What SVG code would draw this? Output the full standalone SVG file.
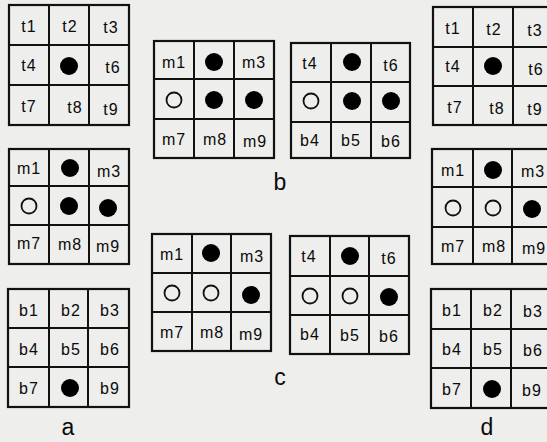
<svg xmlns="http://www.w3.org/2000/svg" width="547" height="442" viewBox="0 0 547 442">
<style>
.bg{fill:#eeeeec}
.box{fill:none;stroke:#111;stroke-width:2.2}
.ln{stroke:#111;stroke-width:2}
text{font-family:"Liberation Sans",Arial,sans-serif;fill:#0a0a0a}
.t{font-size:16px;text-anchor:middle;letter-spacing:1px}
.lab{font-size:23px;text-anchor:middle}
.dot{fill:#000}
.ring{fill:none;stroke:#111;stroke-width:1.8}
</style>
<rect class="bg" x="0" y="0" width="547" height="442"/>

<g id="a1">
<rect class="box" x="9" y="5" width="120" height="120"/>
<path class="ln" d="M49 5V125M89 5V125M9 45H129M9 85H129"/>
<text class="t" x="29" y="32">t1</text><text class="t" x="70" y="32">t2</text><text class="t" x="111" y="33">t3</text>
<text class="t" x="29" y="71">t4</text><circle class="dot" cx="69" cy="66" r="9"/><text class="t" x="113" y="73">t6</text>
<text class="t" x="29" y="112">t7</text><text class="t" x="75" y="113">t8</text><text class="t" x="111" y="115">t9</text>
</g>

<g id="a2">
<rect class="box" x="9" y="149" width="120" height="115"/>
<path class="ln" d="M49 149V264M89 149V264M9 186H129M9 225H129"/>
<text class="t" x="29" y="174">m1</text><circle class="dot" cx="70" cy="168" r="9"/><text class="t" x="109" y="177">m3</text>
<circle class="ring" cx="29" cy="206" r="7.5"/><circle class="dot" cx="69" cy="206" r="9"/><circle class="dot" cx="108" cy="208" r="9"/>
<text class="t" x="29" y="249">m7</text><text class="t" x="70" y="250">m8</text><text class="t" x="108" y="252">m9</text>
</g>

<g id="a3">
<rect class="box" x="8" y="289" width="121" height="118"/>
<path class="ln" d="M49 289V407M88 289V407M8 328H129M8 367H129"/>
<text class="t" x="29" y="316">b1</text><text class="t" x="71" y="316">b2</text><text class="t" x="110" y="316">b3</text>
<text class="t" x="29" y="355">b4</text><text class="t" x="71" y="355">b5</text><text class="t" x="110" y="355">b6</text>
<text class="t" x="29" y="394">b7</text><circle class="dot" cx="70" cy="388" r="9"/><text class="t" x="110" y="394">b9</text>
</g>

<g id="b1">
<rect class="box" x="154" y="41" width="120" height="117"/>
<path class="ln" d="M194 41V158M234 41V158M154 79H274M154 119H274"/>
<text class="t" x="174" y="68">m1</text><circle class="dot" cx="214" cy="62" r="9"/><text class="t" x="254" y="68">m3</text>
<circle class="ring" cx="174" cy="100" r="7.5"/><circle class="dot" cx="214" cy="100" r="9"/><circle class="dot" cx="254" cy="100" r="9"/>
<text class="t" x="174" y="145">m7</text><text class="t" x="215" y="145">m8</text><text class="t" x="255" y="147">m9</text>
</g>

<g id="b2">
<rect class="box" x="291" y="43" width="119" height="115"/>
<path class="ln" d="M331 43V158M371 43V158M291 82H410M291 122H410"/>
<text class="t" x="310" y="69">t4</text><circle class="dot" cx="352" cy="62" r="9"/><text class="t" x="391" y="71">t6</text>
<circle class="ring" cx="311" cy="101" r="7.5"/><circle class="dot" cx="352" cy="101" r="9"/><circle class="dot" cx="391" cy="101" r="9"/>
<text class="t" x="310" y="146">b4</text><text class="t" x="351" y="146">b5</text><text class="t" x="391" y="147">b6</text>
</g>

<text class="lab" x="280" y="190">b</text>

<g id="c1">
<rect class="box" x="152" y="234" width="119" height="117"/>
<path class="ln" d="M192 234V351M231 234V351M152 273H271M152 312H271"/>
<text class="t" x="172" y="260">m1</text><circle class="dot" cx="211" cy="253" r="9"/><text class="t" x="252" y="262">m3</text>
<circle class="ring" cx="172" cy="293" r="7.5"/><circle class="ring" cx="211" cy="293" r="7.5"/><circle class="dot" cx="251" cy="295" r="9"/>
<text class="t" x="172" y="338">m7</text><text class="t" x="212" y="338">m8</text><text class="t" x="251" y="340">m9</text>
</g>

<g id="c2">
<rect class="box" x="290" y="236" width="119" height="118"/>
<path class="ln" d="M330 236V354M369 236V354M290 276H409M290 315H409"/>
<text class="t" x="309" y="262">t4</text><circle class="dot" cx="350" cy="256" r="9"/><text class="t" x="389" y="264">t6</text>
<circle class="ring" cx="310" cy="296" r="7.5"/><circle class="ring" cx="350" cy="296" r="7.5"/><circle class="dot" cx="389" cy="297" r="9"/>
<text class="t" x="310" y="340">b4</text><text class="t" x="350" y="341">b5</text><text class="t" x="389" y="342">b6</text>
</g>

<text class="lab" x="280" y="385">c</text>

<g id="d1">
<rect class="box" x="433" y="7" width="122" height="118"/>
<path class="ln" d="M473 7V125M513 7V125M433 47H555M433 86H555"/>
<text class="t" x="453" y="34">t1</text><text class="t" x="494" y="35">t2</text><text class="t" x="535" y="36">t3</text>
<text class="t" x="453" y="72">t4</text><circle class="dot" cx="493" cy="66" r="9"/><text class="t" x="536" y="75">t6</text>
<text class="t" x="455" y="113">t7</text><text class="t" x="497" y="114">t8</text><text class="t" x="535" y="115">t9</text>
</g>

<g id="d2">
<rect class="box" x="432" y="149" width="122" height="115"/>
<path class="ln" d="M473 149V264M512 149V264M432 187H554M432 227H554"/>
<text class="t" x="453" y="176">m1</text><circle class="dot" cx="493" cy="170" r="9"/><text class="t" x="533" y="177">m3</text>
<circle class="ring" cx="453" cy="208" r="7.5"/><circle class="ring" cx="493" cy="208" r="7.5"/><circle class="dot" cx="532" cy="209" r="9"/>
<text class="t" x="453" y="252">m7</text><text class="t" x="494" y="252">m8</text><text class="t" x="534" y="254">m9</text>
</g>

<g id="d3">
<rect class="box" x="431" y="289" width="122" height="119"/>
<path class="ln" d="M471 289V408M511 289V408M431 329H553M431 368H553"/>
<text class="t" x="452" y="316">b1</text><text class="t" x="493" y="316">b2</text><text class="t" x="533" y="317">b3</text>
<text class="t" x="452" y="355">b4</text><text class="t" x="493" y="355">b5</text><text class="t" x="533" y="356">b6</text>
<text class="t" x="452" y="395">b7</text><circle class="dot" cx="492" cy="389" r="9"/><text class="t" x="532" y="396">b9</text>
</g>

<text class="lab" x="68" y="435">a</text>
<text class="lab" x="487" y="435">d</text>
</svg>
